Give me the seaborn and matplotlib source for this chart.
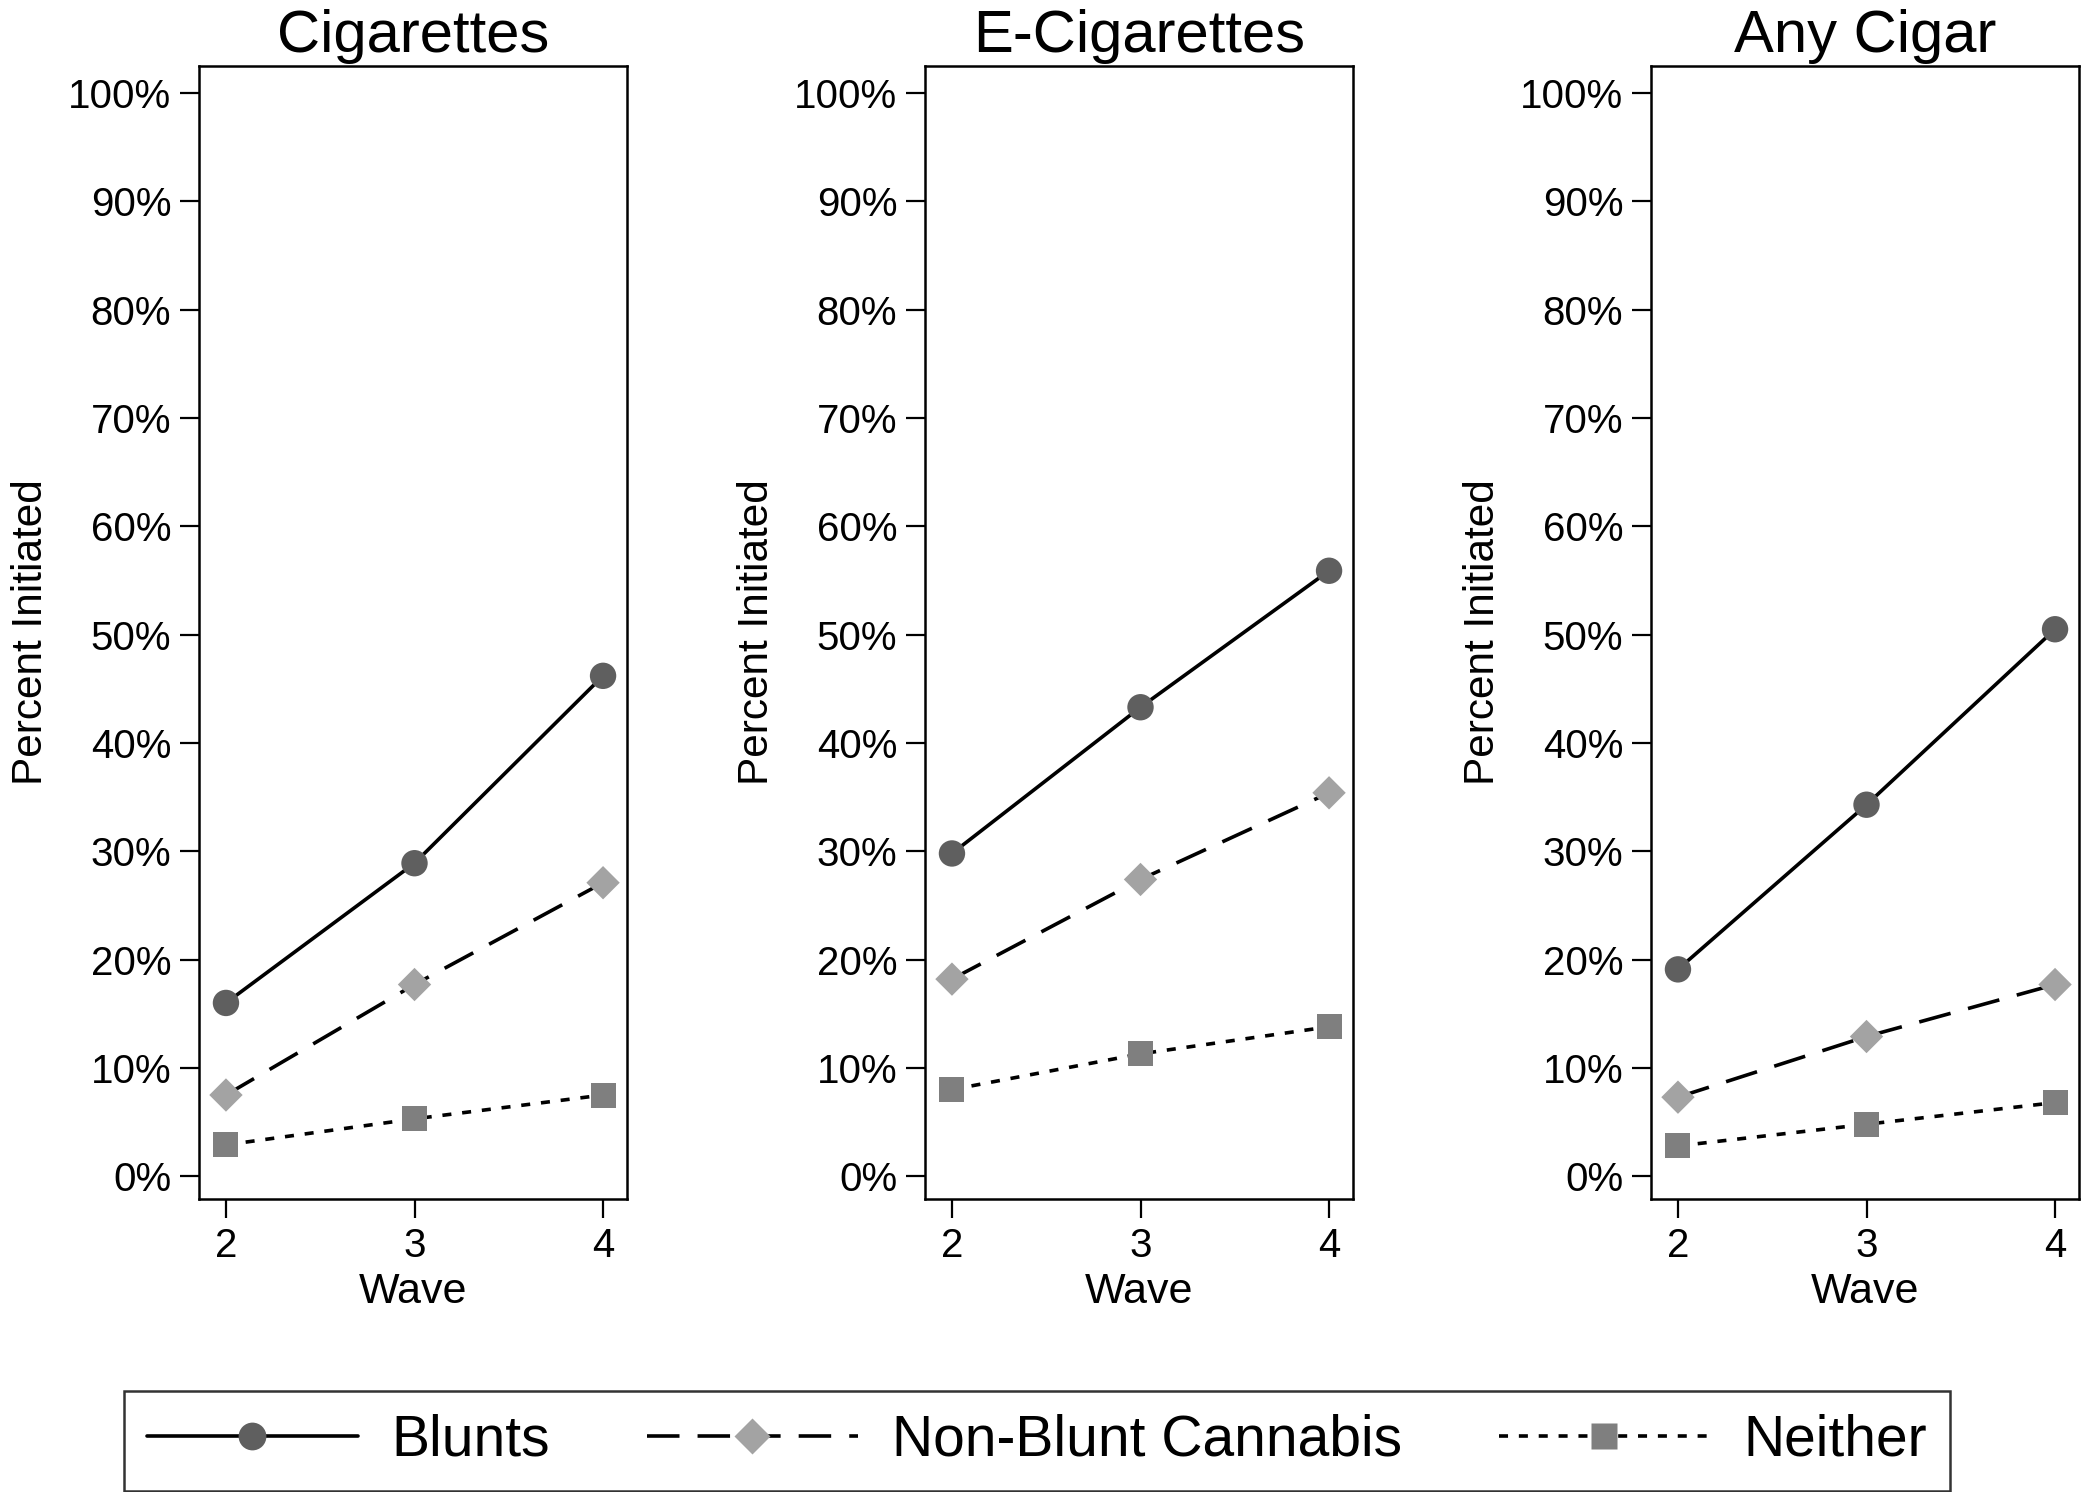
import numpy as np
import pandas as pd
import matplotlib
matplotlib.use("Agg")
import matplotlib.pyplot as plt
from matplotlib.lines import Line2D
import seaborn as sns

sns.set_style("white")
plt.rcParams['font.family'] = ['Liberation Sans', 'DejaVu Sans']
plt.rcParams['text.color'] = 'black'
plt.rcParams['axes.labelcolor'] = 'black'
plt.rcParams['xtick.color'] = 'black'
plt.rcParams['ytick.color'] = 'black'

waves = [2, 3, 4]
panels = ["Cigarettes", "E-Cigarettes", "Any Cigar"]
groups = ["Blunts", "Non-Blunt Cannabis", "Neither"]

cig_blunts = [16.0, 28.9, 46.2]
cig_nonblunt = [7.5, 17.7, 27.1]
cig_neither = [2.9, 5.3, 7.5]

ecig_blunts = [29.8, 43.3, 55.9]
ecig_nonblunt = [18.2, 27.4, 35.4]
ecig_neither = [8.0, 11.3, 13.8]

cigar_blunts = [19.1, 34.3, 50.5]
cigar_nonblunt = [7.3, 12.9, 17.7]
cigar_neither = [2.8, 4.8, 6.8]

yticks = [0, 10, 20, 30, 40, 50, 60, 70, 80, 90, 100]
ytick_labels = [f"{v}%" for v in yticks]

values = {
    "Cigarettes": [cig_blunts, cig_nonblunt, cig_neither],
    "E-Cigarettes": [ecig_blunts, ecig_nonblunt, ecig_neither],
    "Any Cigar": [cigar_blunts, cigar_nonblunt, cigar_neither],
}

rows = []
for p in panels:
    for g, vals in zip(groups, values[p]):
        for w, v in zip(waves, vals):
            rows.append({"panel": p, "group": g, "wave": w, "pct": v})
df = pd.DataFrame(rows)

marker_colors = {"Blunts": "#5f5f5f", "Non-Blunt Cannabis": "#a3a3a3", "Neither": "#7f7f7f"}
markers = {"Blunts": "o", "Non-Blunt Cannabis": "D", "Neither": "s"}
marker_sizes = {"Blunts": 19, "Non-Blunt Cannabis": 19, "Neither": 18}
dashes = {"Blunts": "", "Non-Blunt Cannabis": (9, 5), "Neither": (2.5, 3)}

W, H = 2084, 1492
fig = plt.figure(figsize=(W / 100, H / 100), dpi=100)

lefts = [199, 925, 1651]
ax_w = 428
top, bottom = 66, 1199

for p, lx in zip(panels, lefts):
    ax = fig.add_axes([lx / W, 1 - bottom / H, ax_w / W, (bottom - top) / H])
    sub = df[df.panel == p]
    sns.lineplot(data=sub, x="wave", y="pct", style="group", style_order=groups,
                 dashes=dashes, color="black", linewidth=2.6, legend=False, ax=ax)
    for g in groups:
        s = sub[sub.group == g]
        sizes_pt2 = marker_sizes[g] ** 2 * (0.8 if g == "Non-Blunt Cannabis" else 1.0)
        sns.scatterplot(data=s, x="wave", y="pct", marker=markers[g], color=marker_colors[g],
                        s=sizes_pt2, edgecolor="none", linewidth=0, legend=False, ax=ax, zorder=5)
    ax.set_xlim(1.857, 4.127)
    ax.set_ylim(-2.1, 102.5)
    ax.set_xticks(waves)
    ax.set_xticklabels([str(w) for w in waves])
    ax.set_yticks(yticks)
    ax.set_yticklabels(ytick_labels)
    ax.tick_params(axis="both", direction="out", length=14, width=1.6, labelsize=29,
                   color="black", left=True, bottom=True, pad=6)
    ax.set_xlabel("Wave", fontsize=31, labelpad=5)
    ax.set_ylabel("Percent Initiated", fontsize=30.5, labelpad=12)
    ax.set_title(p, fontsize=43, pad=10)
    for sp in ax.spines.values():
        sp.set_visible(True)
        sp.set_color("black")
        sp.set_linewidth(1.8)
    ax.grid(False)

handles = [
    Line2D([], [], color="black", linewidth=2.6, linestyle="-", marker="o",
           markersize=20, markerfacecolor=marker_colors["Blunts"], markeredgecolor="none"),
    Line2D([], [], color="black", linewidth=2.6, linestyle=(0, (9, 5)), marker="D",
           markersize=18, markerfacecolor=marker_colors["Non-Blunt Cannabis"], markeredgecolor="none"),
    Line2D([], [], color="black", linewidth=2.6, linestyle=(0, (2.5, 3)), marker="s",
           markersize=19, markerfacecolor=marker_colors["Neither"], markeredgecolor="none"),
]
leg = fig.legend(handles, groups, loc="center", bbox_to_anchor=(1037 / W, 1 - 1441 / H),
                 ncol=3, fontsize=41, frameon=True, fancybox=False, handlelength=3.7,
                 columnspacing=1.7, handletextpad=0.6, borderpad=0.4)
leg.get_frame().set_edgecolor("black")
leg.get_frame().set_linewidth(1.8)

fig.savefig("out.png", dpi=100, facecolor="white")
